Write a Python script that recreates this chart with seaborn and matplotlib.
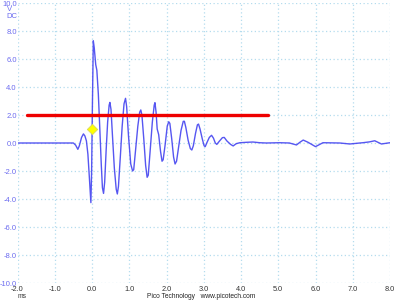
import matplotlib
matplotlib.use("Agg")
import matplotlib.pyplot as plt
import seaborn as sns
import pandas as pd

# ---- data ----
time_ms = [-2.0, -0.5, -0.44, -0.38, -0.34, -0.28, -0.23, -0.19, -0.15, -0.11,
           -0.07, -0.03, -0.01, 0.01, 0.035, 0.06, 0.10, 0.13, 0.17, 0.21,
           0.25, 0.28, 0.31, 0.34, 0.38, 0.42, 0.46, 0.48, 0.51, 0.55,
           0.60, 0.65, 0.68, 0.71, 0.76, 0.81, 0.86, 0.90, 0.93, 0.98,
           1.04, 1.09, 1.12, 1.17, 1.23, 1.28, 1.31, 1.34, 1.39, 1.44,
           1.48, 1.51, 1.56, 1.62, 1.67, 1.69, 1.72, 1.75, 1.79, 1.84,
           1.88, 1.91, 1.96, 2.02, 2.06, 2.09, 2.14, 2.19, 2.23, 2.27,
           2.33, 2.39, 2.45, 2.48, 2.52, 2.58, 2.64, 2.68, 2.72, 2.78,
           2.83, 2.86, 2.90, 2.96, 3.01, 3.04, 3.08, 3.15, 3.21, 3.26,
           3.31, 3.35, 3.41, 3.50, 3.55, 3.62, 3.72, 3.79, 3.87, 3.97,
           4.15, 4.32, 4.5, 4.68, 5.04, 5.3, 5.49, 5.58, 5.67, 5.8,
           6.0, 6.2, 6.65, 6.92, 7.27, 7.45, 7.59, 7.77, 8.0]
volts = [0.0, 0.0, -0.15, -0.45, -0.2, 0.4, 0.65, 0.5, 0.15, -0.8,
         -2.5, -4.26, -2.0, 2.5, 7.3, 6.8, 5.6, 5.2, 3.5, 1.0,
         -1.6, -3.2, -3.6, -2.8, -0.5, 1.5, 2.7, 2.9, 2.4, 0.5,
         -1.8, -3.3, -3.64, -3.1, -1.0, 1.2, 2.8, 3.19, 2.6, 0.5,
         -1.5, -2.0, -1.9, -0.5, 1.2, 2.2, 2.36, 2.0, 0.3, -1.6,
         -2.45, -2.3, -0.6, 1.5, 2.7, 2.88, 2.2, 1.0, 0.6, -0.6,
         -1.3, -1.2, -0.2, 1.2, 1.52, 1.4, 0.3, -1.0, -1.5, -1.3,
         -0.2, 0.9, 1.55, 1.55, 1.1, 0.2, -0.4, -0.5, -0.2, 0.7,
         1.3, 1.35, 1.0, 0.3, -0.2, -0.26, 0.0, 0.4, 0.55, 0.35,
         0.0, -0.1, 0.1, 0.38, 0.4, 0.15, -0.1, -0.21, -0.05, 0.02,
         0.05, 0.07, 0.02, 0.0, 0.02, 0.0, -0.14, 0.05, 0.21, 0.05,
         -0.26, 0.02, 0.0, -0.07, 0.02, 0.08, 0.16, -0.07, 0.02]

threshold_x = [-1.74, 4.72]
threshold_y = [2.0, 2.0]

trigger_x = [0.0]
trigger_y = [1.0]

x_ticks = [-2.0, -1.0, 0.0, 1.0, 2.0, 3.0, 4.0, 5.0, 6.0, 7.0, 8.0]
y_ticks = [-10.0, -8.0, -6.0, -4.0, -2.0, 0.0, 2.0, 4.0, 6.0, 8.0, 10.0]
x_labels = ["-2.0", "-1.0", "0.0", "1.0", "2.0", "3.0", "4.0", "5.0", "6.0", "7.0", "8.0"]
y_labels = ["-10.0", "-8.0", "-6.0", "-4.0", "-2.0", "0.0", "2.0", "4.0", "6.0", "8.0", "10.0"]

# ---- style ----
sns.set_style("white")
plt.rcParams["font.family"] = ["Liberation Sans", "DejaVu Sans"]
plt.rcParams["axes.unicode_minus"] = False

fig = plt.figure(figsize=(4, 3), dpi=100)
fig.patch.set_facecolor("white")
ax = fig.add_axes([17.5 / 400, 1 - 283 / 300, 372.5 / 400, 280 / 300])
ax.set_facecolor("white")

df = pd.DataFrame({"t": time_ms, "v": volts})
sns.lineplot(data=df, x="t", y="v", ax=ax, sort=False, estimator=None,
             color="#4444f0", linewidth=1.0, alpha=0.9, zorder=3)

thr = pd.DataFrame({"t": threshold_x, "v": threshold_y})
sns.lineplot(data=thr, x="t", y="v", ax=ax, sort=False, estimator=None,
             color="#ee0000", linewidth=2.4, zorder=4)

trg = pd.DataFrame({"t": trigger_x, "v": trigger_y})
sns.scatterplot(data=trg, x="t", y="v", ax=ax, marker="D", s=28,
                color="#ffff00", edgecolor="#d8d860", linewidth=0.6, zorder=5)

ax.set_xlim(-2.0, 8.0)
ax.set_ylim(-10.0, 10.0)
ax.set_xticks(x_ticks)
ax.set_yticks(y_ticks)
ax.set_xticklabels(x_labels)
ax.set_yticklabels(y_labels)
ax.set_xlabel("")
ax.set_ylabel("")

for s in ax.spines.values():
    s.set_visible(False)

ax.grid(True, color="#b4dcee", linestyle=(0, (1, 2)), linewidth=0.9)
ax.set_axisbelow(True)

ax.tick_params(axis="y", length=0, pad=0.5, labelsize=5.5, labelcolor="#6c6cf0")
ax.tick_params(axis="x", length=0, pad=2.2, labelsize=5.3, labelcolor="#333333")

fig.text(10 / 400, 1 - 9.5 / 300, "V", fontsize=5.5, color="#6c6cf0",
         ha="center", va="center")
fig.text(12 / 400, 1 - 16 / 300, "DC", fontsize=5.5, color="#6c6cf0",
         ha="center", va="center")
fig.text(22 / 400, 1 - 297 / 300, "ms", fontsize=4.8, color="#333333",
         ha="center", va="center")
fig.text(201 / 400, 1 - 297 / 300, "Pico Technology   www.picotech.com",
         fontsize=4.8, color="#222222", ha="center", va="center")

fig.savefig("out.png", dpi=100, facecolor="white")
